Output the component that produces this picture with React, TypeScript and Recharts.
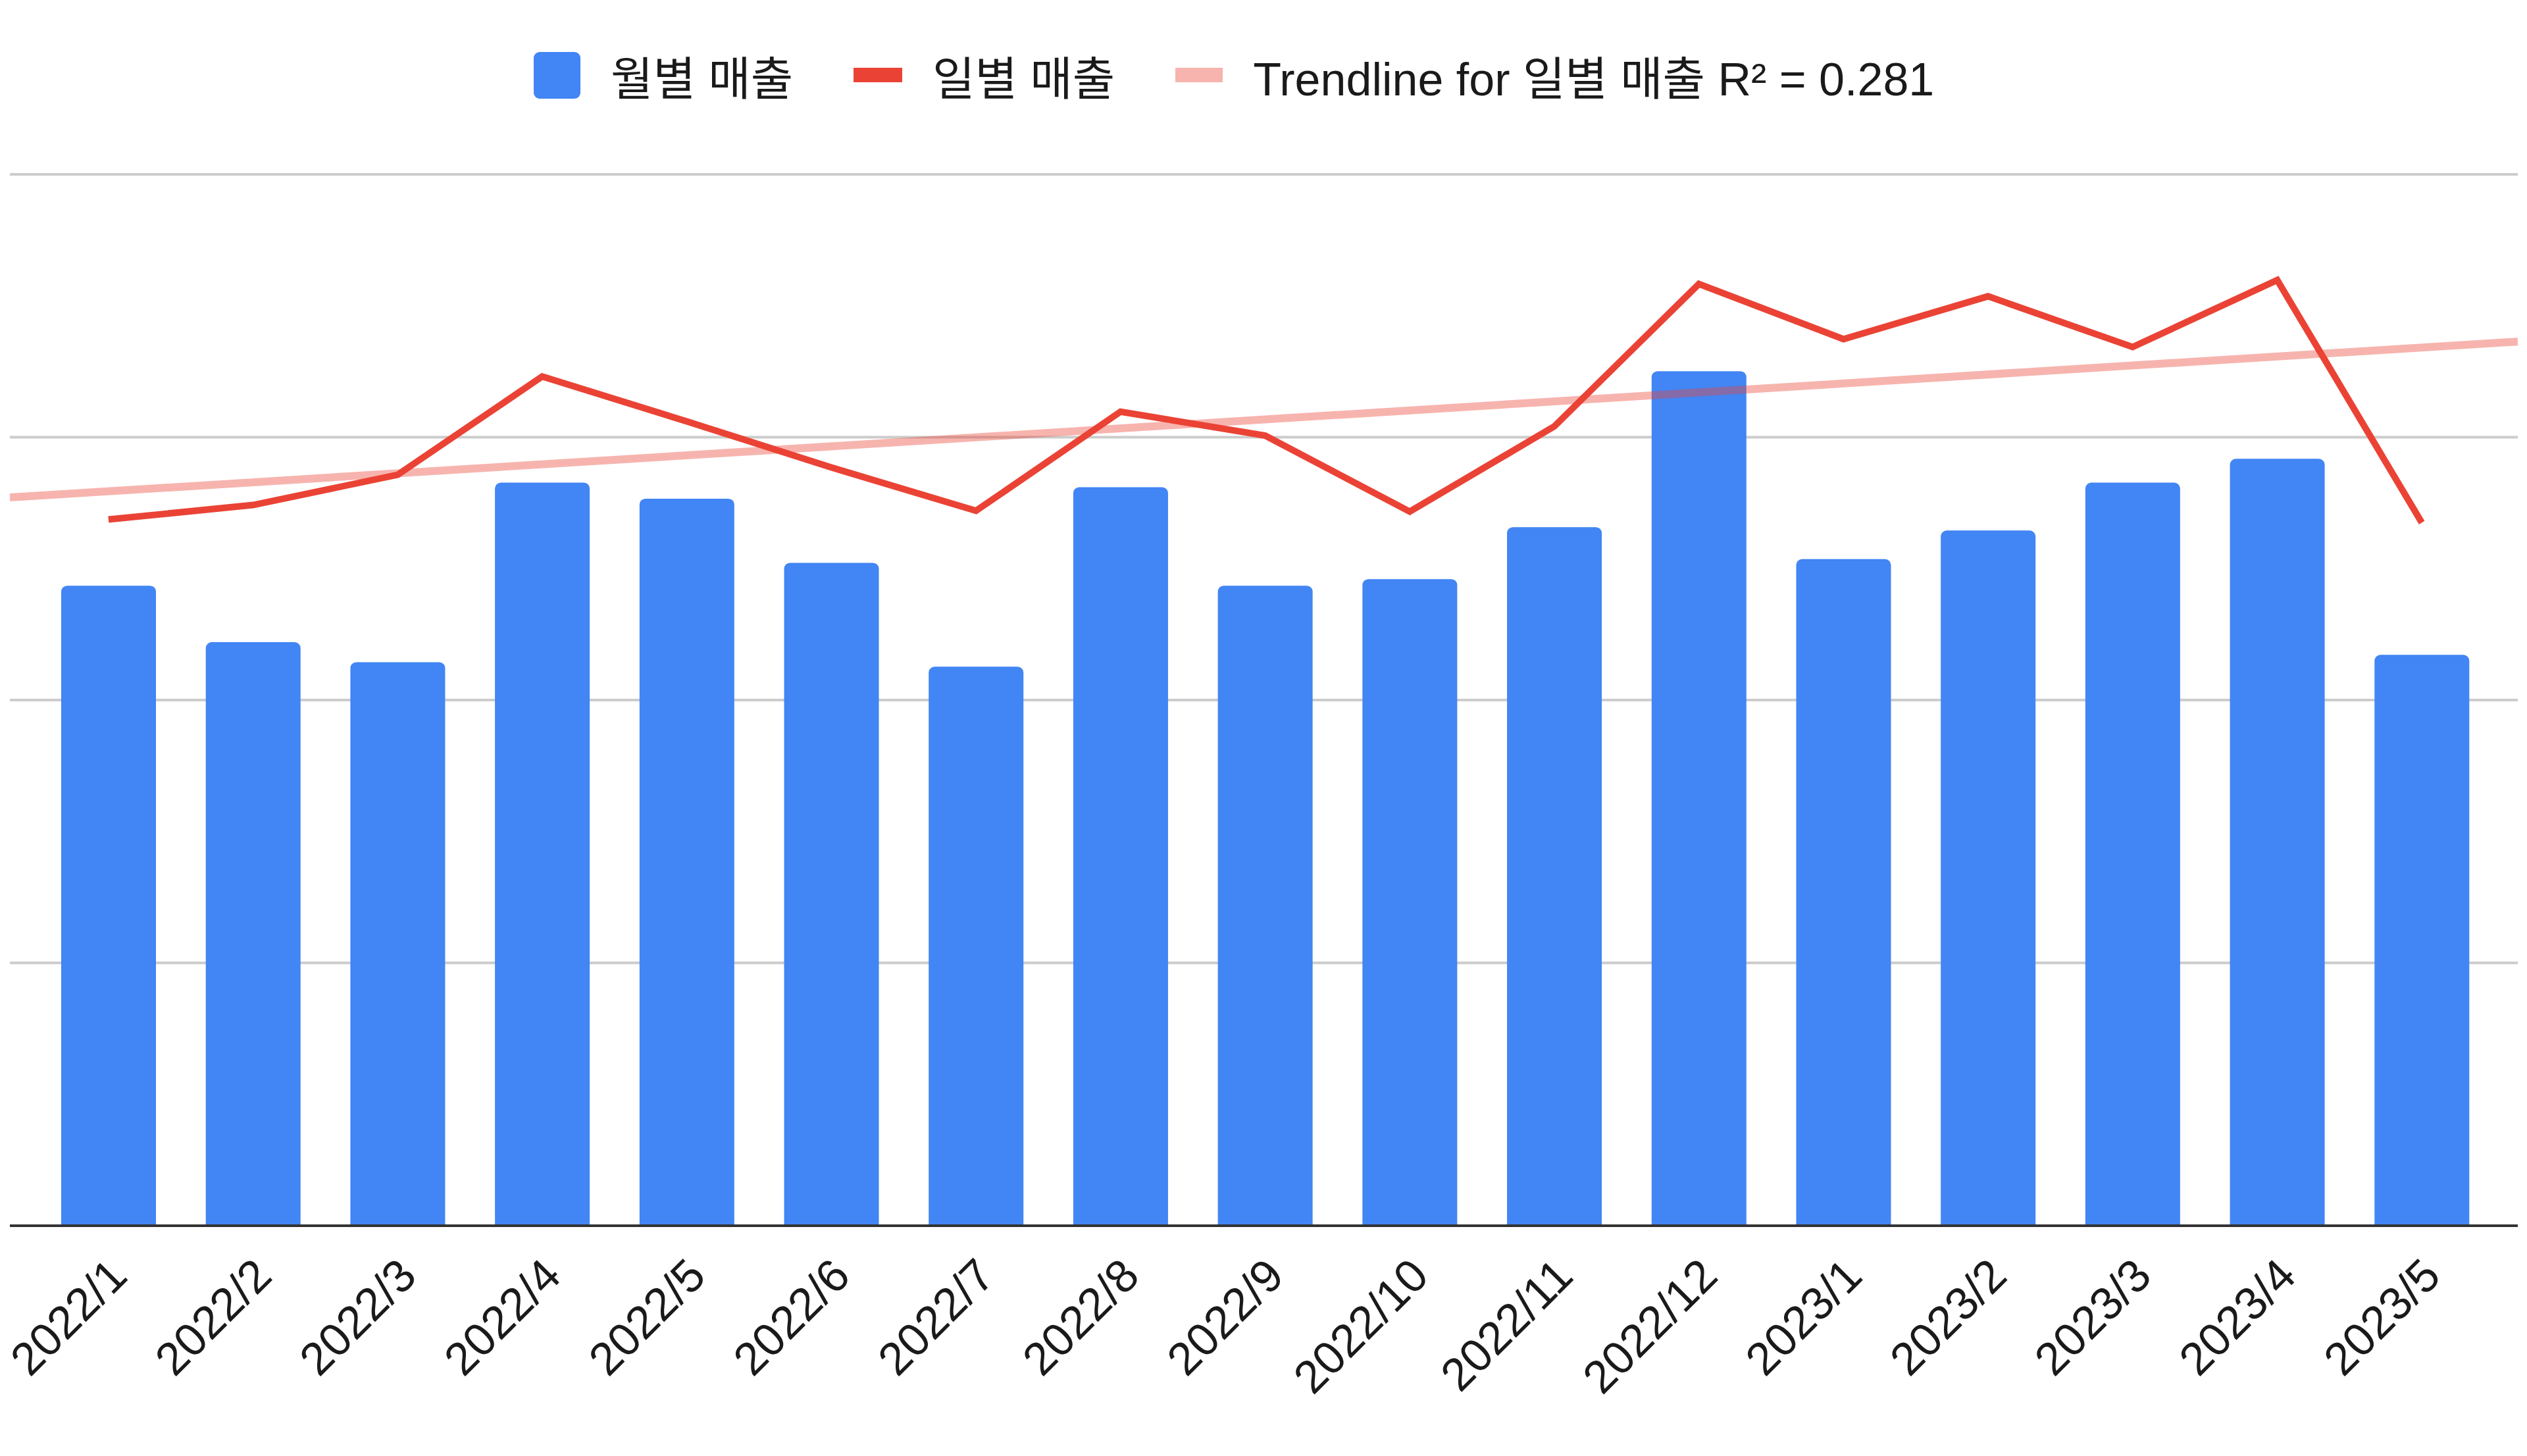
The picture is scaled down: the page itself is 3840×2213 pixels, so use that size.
import React from 'react'
import { ComposedChart, Bar, Line, XAxis, YAxis, CartesianGrid, Legend } from 'recharts'

const months = ['2022/1', '2022/2', '2022/3', '2022/4', '2022/5', '2022/6', '2022/7', '2022/8', '2022/9', '2022/10', '2022/11', '2022/12', '2023/1', '2023/2', '2023/3', '2023/4', '2023/5']
const monthlySales = [243.5, 222, 214.4, 282.7, 276.6, 252.2, 212.7, 281, 243.5, 246, 265.8, 325.1, 253.6, 264.5, 282.7, 291.8, 217.2]
const dailySales = [268.7, 274.2, 285.7, 323.1, 306, 288.5, 272, 309.7, 300.6, 271.7, 304.1, 358.3, 337.3, 353.6, 334.3, 359.8, 267.5]
const legendLabels = ['월별 매출', '일별 매출', 'Trendline for 일별 매출 R² = 0.281']
const yTicks = [0, 100, 200, 300, 400]

const W = 3840
const H = 2213
const M = { top: 265, right: 14, bottom: 0, left: 15 }
const X_PAD = { left: 40, right: 36 }
const FONT = "'Liberation Sans', Arial, 'Noto Sans CJK KR', sans-serif"
const BLUE = '#4285F4'
const RED = '#EA4335'

const data = months.map((m, i) => ({ month: m, monthly: monthlySales[i], daily: dailySales[i] }))

// least squares fit of the daily series against month index
function fitTrend(ys: number[]) {
  const n = ys.length
  const mx = (n - 1) / 2
  const my = ys.reduce((a, b) => a + b, 0) / n
  let sxy = 0, sxx = 0
  ys.forEach((y, i) => { sxy += (i - mx) * (y - my); sxx += (i - mx) ** 2 })
  const slope = sxy / sxx
  return (t: number) => my + slope * (t - mx)
}
const trendAt = fitTrend(dailySales)

// hidden numeric axis over the whole plot width, in month-index units,
// so the trendline runs edge to edge like the original
const plotW = W - M.left - M.right
const band = (plotW - X_PAD.left - X_PAD.right) / months.length
const tMin = -0.5 - X_PAD.left / band
const tMax = months.length - 0.5 + X_PAD.right / band
const trendData = [tMin, tMax].map(t => ({ t, trend: trendAt(t) }))

function MonthTick({ x, y, payload }: any) {
  const tx = x + 32
  const ty = y + 80
  return (
    <text x={tx} y={ty} transform={`rotate(-45 ${tx} ${ty})`} textAnchor="end" fontSize={70} fill="#1a1a1a" fontFamily={FONT}>
      {payload.value}
    </text>
  )
}

function LegendRow() {
  const swatches = [
    <div style={{ width: 71, height: 71, borderRadius: 9, background: BLUE }} />,
    <div style={{ width: 74, height: 22, background: RED }} />,
    <div style={{ width: 72, height: 22, background: RED, opacity: 0.4 }} />,
  ]
  return (
    <div style={{ display: 'flex', alignItems: 'center', height: 100, fontFamily: FONT, fontSize: 70, color: '#1a1a1a', whiteSpace: 'nowrap' }}>
      {legendLabels.map((label, i) => (
        <div key={label} style={{ display: 'flex', alignItems: 'center', marginRight: 92 }}>
          {swatches[i]}
          <span style={{ marginLeft: 46 }}>{label}</span>
        </div>
      ))}
    </div>
  )
}

export default function App() {
  return (
    <div style={{ position: 'absolute', left: 0, top: 0, width: W, height: H, background: '#fff' }}>
      <ComposedChart width={W} height={H} data={data} margin={M}>
        <CartesianGrid vertical={false} stroke="#cccccc" strokeWidth={4} />
        <XAxis
          dataKey="month"
          height={H - 1863}
          padding={X_PAD}
          interval={0}
          tickLine={false}
          tickSize={0}
          tickMargin={0}
          tick={<MonthTick />}
          axisLine={{ stroke: '#333', strokeWidth: 4 }}
        />
        <XAxis xAxisId="trend" type="number" dataKey="t" domain={[tMin, tMax]} allowDataOverflow hide />
        <YAxis hide domain={[0, 400]} ticks={yTicks} />
        <Legend
          verticalAlign="middle"
          align="center"
          layout="horizontal"
          content={<LegendRow />}
          wrapperStyle={{ left: 811, top: 64, width: 2600, height: 100 }}
        />
        <Bar dataKey="monthly" name={legendLabels[0]} fill={BLUE} barSize={144} radius={[9, 9, 0, 0]} isAnimationActive={false} />
        <Line
          xAxisId="trend"
          data={trendData}
          dataKey="trend"
          name={legendLabels[2]}
          type="linear"
          stroke={RED}
          strokeOpacity={0.4}
          strokeWidth={12}
          dot={false}
          activeDot={false}
          isAnimationActive={false}
        />
        <Line
          dataKey="daily"
          name={legendLabels[1]}
          type="linear"
          stroke={RED}
          strokeWidth={10}
          dot={false}
          activeDot={false}
          isAnimationActive={false}
        />
      </ComposedChart>
    </div>
  )
}
